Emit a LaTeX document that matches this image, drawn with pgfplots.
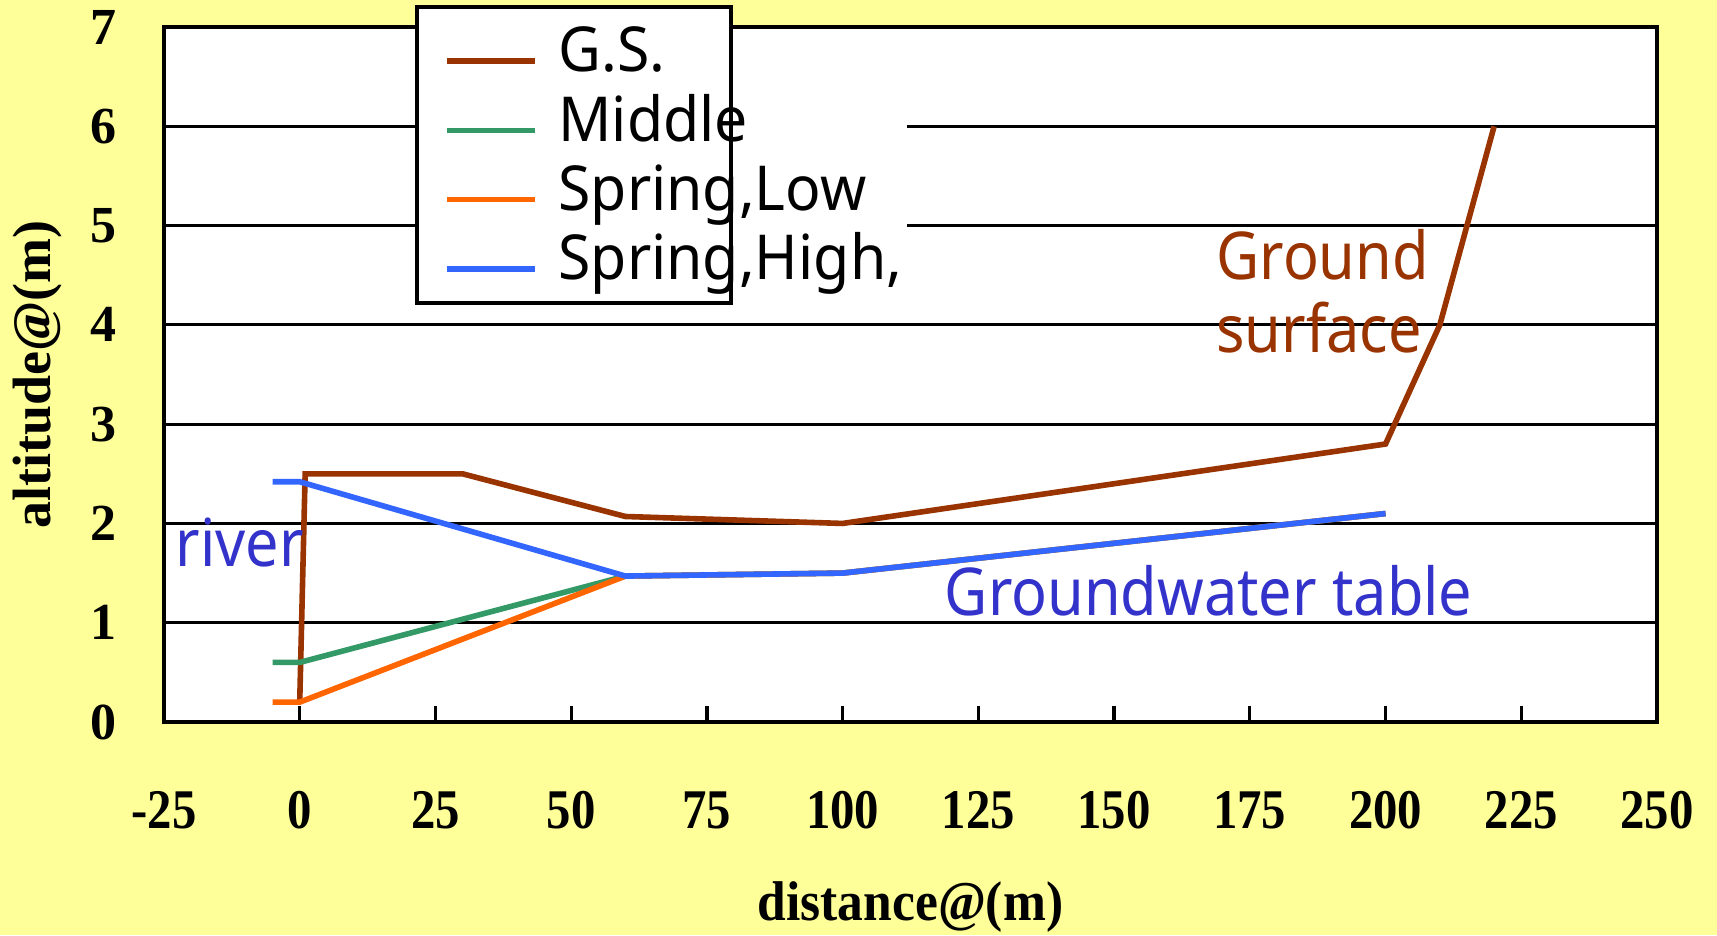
\documentclass[border=0pt]{standalone}
\usepackage{fontspec}
\usepackage{pgfplots}
\pgfplotsset{compat=1.18}
\setmainfont{Liberation Serif}
\newfontfamily\xtfont{Liberation Serif}[FakeStretch=0.87]
\newfontfamily\xlfont{Liberation Serif}[FakeStretch=0.92]
\newfontfamily\sansf{Noto Sans}[FakeStretch=0.9]
\newfontfamily\legf{Noto Sans}[FakeStretch=0.95]
\definecolor{bgyellow}{HTML}{FFFF99}
\definecolor{gsbrown}{HTML}{993300}
\definecolor{midgreen}{HTML}{339966}
\definecolor{loworange}{HTML}{FF6600}
\definecolor{highblue}{HTML}{3366FF}
\definecolor{txtblue}{HTML}{3333CC}
\begin{document}
\begin{tikzpicture}
\useasboundingbox (-41pt,-53.25pt) rectangle (388.25pt,180.5pt);
\fill[bgyellow] (-41pt,-53.25pt) rectangle (388.25pt,180.5pt);
\begin{axis}[
  at={(0pt,0pt)}, anchor=south west, scale only axis,
  width=373.25pt, height=173.75pt,
  xmin=-25, xmax=250, ymin=0, ymax=7,
  xtick={-25,0,25,50,75,100,125,150,175,200,225,250},
  xticklabels={-25,0,25,50,75,100,125,150,175,200,225,250},
  ytick={0,1,2,3,4,5,6,7},
  yticklabels={0,1,2,3,4,5,6,7},
  clip=false,
  axis background/.style={fill=white},
  axis line style={black, line width=1pt},
  ymajorgrids, grid style={black, line width=0.8pt},
  tick align=inside, xtick pos=bottom, ytick pos=left,
  major tick length=4pt,
  x tick style={black, line width=0.8pt},
  y tick style={draw=none},
  /pgf/number format/assume math mode=true,
  xticklabel style={font=\xtfont\bfseries\fontsize{14}{14}\selectfont, anchor=center, yshift=-22pt},
  yticklabel style={font=\bfseries\fontsize{13}{13}\selectfont, anchor=center, xshift=-15pt},
  xlabel={distance@(m)},
  ylabel={altitude@(m)},
  every axis x label/.style={at={(axis description cs:0.5,0)}, anchor=center, yshift=-46.25pt, font=\xlfont\bfseries\fontsize{14}{14}\selectfont},
  every axis y label/.style={at={(axis description cs:0,0.5)}, rotate=90, anchor=center, yshift=31.5pt, font=\bfseries\fontsize{13.5}{13.5}\selectfont},
  legend style={draw=none, fill=none, at={(axis description cs:0.1695,1.0288)}, anchor=north west,
    font=\legf\fontsize{15.5}{15.5}\selectfont, inner xsep=6.5pt, inner ysep=3.5pt,
    nodes={inner sep=0pt, text height=12.5pt, text depth=4.8pt},
    /tikz/column sep=5.25pt, row sep=0pt, cells={anchor=west}},
  legend image code/.code={\draw[#1, line width=1.4pt] (0pt,-1.2pt) -- (22pt,-1.2pt);},
]
% legend background and box
\fill[white] (rel axis cs:0.3798,0.63) rectangle (rel axis cs:0.4977,0.996);
\fill[white, draw=black, line width=0.8pt] (rel axis cs:0.1695,0.6029) rectangle (rel axis cs:0.3798,1.0288);

\addplot[gsbrown, line width=1.4pt] coordinates {(0,0.2) (1,2.5) (30,2.5) (60,2.07) (100,2.0) (200,2.8) (210,4.0) (220,6.0)};
\addlegendentry{G.S.}
\addplot[midgreen, line width=1.4pt] coordinates {(-5,0.6) (0,0.6) (60,1.47) (100,1.5) (200,2.1)};
\addlegendentry{Middle}
\addplot[loworange, line width=1.4pt] coordinates {(-5,0.2) (0,0.2) (60,1.47) (100,1.5) (200,2.1)};
\addlegendentry{Spring,Low}
\addplot[highblue, line width=1.4pt] coordinates {(-5,2.42) (0,2.42) (60,1.47) (100,1.5) (200,2.1)};
\addlegendentry{Spring,High,}

\node[anchor=base west, inner sep=0pt, text=gsbrown, font=\sansf\fontsize{16.5}{16.5}\selectfont] at (axis cs:168.7,4.46) {Ground};
\node[anchor=base west, inner sep=0pt, text=gsbrown, font=\sansf\fontsize{16.5}{16.5}\selectfont] at (axis cs:168.7,3.72) {surface};
\node[anchor=base west, inner sep=0pt, text=txtblue, font=\sansf\fontsize{16.5}{16.5}\selectfont] at (axis cs:-23,1.57) {river};
\node[anchor=base west, inner sep=0pt, text=txtblue, font=\sansf\fontsize{16.5}{16.5}\selectfont] at (axis cs:118.7,1.07) {Groundwater table};
\end{axis}
\end{tikzpicture}
\end{document}
